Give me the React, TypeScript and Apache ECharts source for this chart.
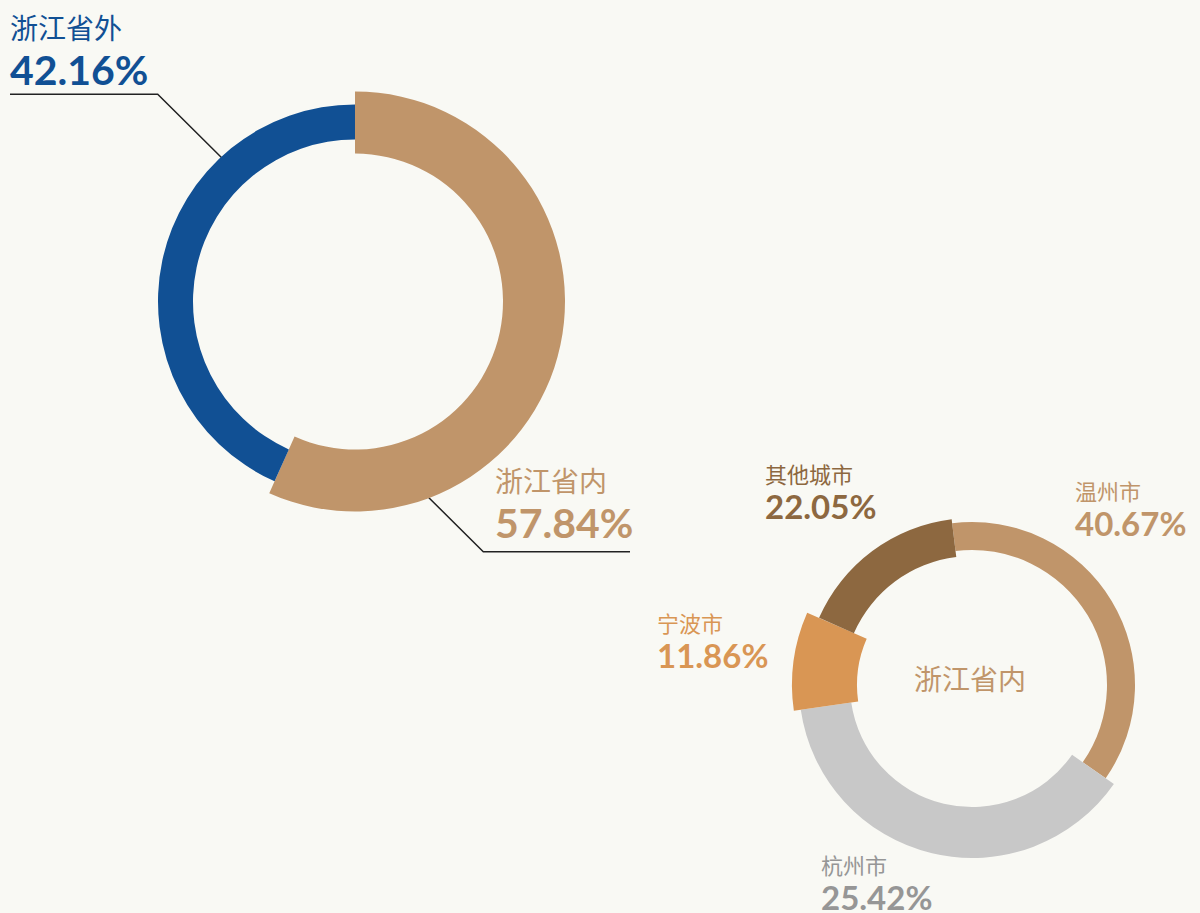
import React, { useEffect, useRef } from 'react';
import * as echarts from 'echarts';

// ---- data ----
const regionNames = ['浙江省内', '浙江省外'];
const regionShare = [57.84, 42.16]; // printed percentages
const regionArcDeg = [204.1, 155.9]; // arc sizes as drawn in the picture

const cityNames = ['温州市', '杭州市', '宁波市', '其他城市'];
const cityShare = [40.67, 25.42, 11.86, 22.05]; // printed percentages
const cityArcDeg = [131.9, 136.9, 31.9, 59.3]; // arc sizes as drawn in the picture

const centerTitle = '浙江省内';

// ---- styles / layout ----
const BG = '#f9f9f4';
const regionColors = ['#c0956a', '#115094'];
const regionRadii = [[148, 210], [162, 197]];
const regionCenter = [355, 301.5];
const regionLabelPos = [[495, 463], [10, 10]];
const regionLinePts = [
  [[412.7, 481.7], [483.3, 551.7], [630, 551.7]],
  [[228, 164], [157.7, 94.3], [10, 94.3]],
];

const cityColors = ['#c0956a', '#c8c8c8', '#d99654', '#8d6840'];
const cityTextColors = ['#c0956a', '#969696', '#d99654', '#8d6840'];
const cityRadii = [[135, 163], [122, 173], [115, 180], [129, 167]];
const cityCenter = [972, 685];
const cityLabelPos = [[1075, 476], [821, 850], [657, 608], [765, 459]];

const CJK = '"Noto Sans CJK SC", "Noto Sans", sans-serif';
const NUM = 'Lato, "Noto Sans", sans-serif';

export default function App() {
  const ref = useRef<HTMLDivElement>(null);
  useEffect(() => {
    if (!ref.current) return;
    const chart = echarts.init(ref.current, undefined, { renderer: 'svg' });
    const series: any[] = [];

    regionNames.forEach((_, k) => {
      series.push({
        type: 'pie',
        silent: true,
        center: regionCenter,
        radius: regionRadii[k],
        startAngle: 90,
        clockwise: true,
        avoidLabelOverlap: false,
        data: regionNames.map((name, i) => ({
          name,
          value: regionArcDeg[i],
          share: regionShare[i],
          itemStyle: { color: i === k ? regionColors[i] : 'rgba(0,0,0,0)' },
          label: { show: i === k },
          labelLine: { show: i === k },
        })),
        label: {
          position: 'outside',
          formatter: (p: any) => `{n|${p.name}}\n{v|${p.data.share.toFixed(2)}%}`,
          rich: {
            n: { fontFamily: CJK, fontSize: 28, lineHeight: 34, color: regionColors[k] },
            v: { fontFamily: NUM, fontSize: 41, fontWeight: 'bold', lineHeight: 50, color: regionColors[k] },
          },
        },
        labelLine: { smooth: false, lineStyle: { color: '#222', width: 1.5 } },
        labelLayout: (p: any) =>
          p.dataIndex === k
            ? {
                x: regionLabelPos[k][0],
                y: regionLabelPos[k][1],
                align: 'left',
                verticalAlign: 'top',
                labelLinePoints: regionLinePts[k],
              }
            : {},
      });
    });

    cityNames.forEach((_, k) => {
      series.push({
        type: 'pie',
        silent: true,
        center: cityCenter,
        radius: cityRadii[k],
        startAngle: 97,
        clockwise: true,
        avoidLabelOverlap: false,
        data: cityNames.map((name, i) => ({
          name,
          value: cityArcDeg[i],
          share: cityShare[i],
          itemStyle: { color: i === k ? cityColors[i] : 'rgba(0,0,0,0)' },
          label: { show: i === k },
          labelLine: { show: false },
        })),
        label: {
          position: 'outside',
          formatter: (p: any) => `{n|${p.name}}\n{v|${p.data.share.toFixed(2)}%}`,
          rich: {
            n: { fontFamily: CJK, fontSize: 22, lineHeight: 28, color: cityTextColors[k] },
            v: { fontFamily: NUM, fontSize: 33, fontWeight: 'bold', lineHeight: 38, color: cityTextColors[k] },
          },
        },
        labelLine: { show: false },
        labelLayout: (p: any) =>
          p.dataIndex === k
            ? { x: cityLabelPos[k][0], y: cityLabelPos[k][1], align: 'left', verticalAlign: 'top' }
            : {},
      });
    });

    chart.setOption({
      animation: false,
      backgroundColor: BG,
      graphic: [
        {
          type: 'text',
          x: 970,
          y: 678,
          style: {
            text: centerTitle,
            fill: '#c0956a',
            fontSize: 28,
            fontFamily: CJK,
            align: 'center',
            verticalAlign: 'middle',
          },
        },
      ],
      series,
    });
    return () => chart.dispose();
  }, []);
  return <div ref={ref} style={{ position: 'fixed', left: 0, top: 0, width: 1200, height: 913 }} />;
}
